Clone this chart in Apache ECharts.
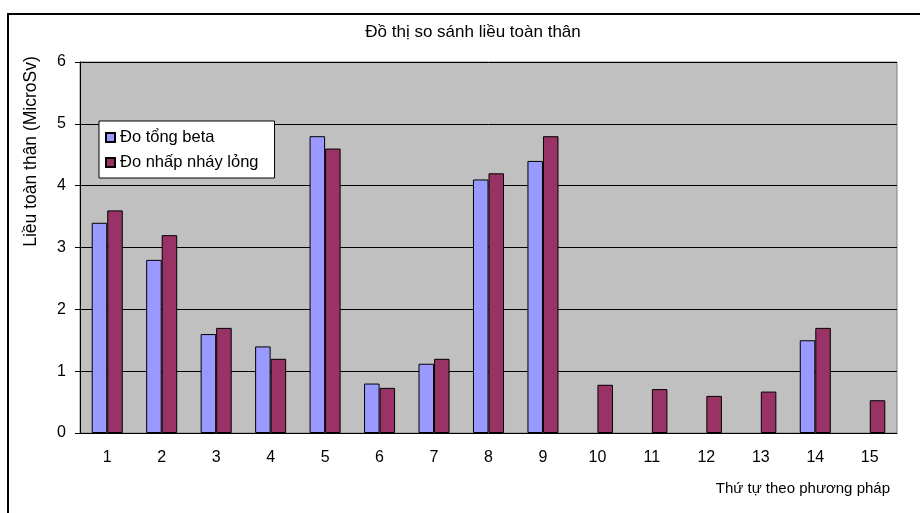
<!DOCTYPE html>
<html>
<head>
<meta charset="utf-8">
<script src="https://cdn.jsdelivr.net/npm/echarts@6/dist/echarts.min.js"></script>
<style>html,body{margin:0;padding:0;background:#fff}#c{width:920px;height:513px}</style>
</head>
<body>
<div id="c"></div>
<script>
var categories = ['1','2','3','4','5','6','7','8','9','10','11','12','13','14','15'];
var tongBeta = [3.4, 2.8, 1.6, 1.4, 4.8, 0.8, 1.12, 4.1, 4.4, null, null, null, null, 1.5, null];
var nhapNhay = [3.6, 3.2, 1.7, 1.2, 4.6, 0.73, 1.2, 4.2, 4.8, 0.78, 0.71, 0.6, 0.67, 1.7, 0.53];
var seriesNames = ['Đo tổng beta', 'Đo nhấp nháy lỏng'];
var titleText = 'Đồ thị so sánh liều toàn thân';
var yName = 'Liều toàn thân (MicroSv)';
var xName = 'Thứ tự theo phương pháp';

var font = 'Arial, "Liberation Sans", sans-serif';
var chart = echarts.init(document.getElementById('c'));
chart.setOption({
  animation: false,
  backgroundColor: '#fff',
  title: {
    text: titleText, left: 468, top: 19, textAlign: 'center',
    textStyle: {fontFamily: font, fontSize: 17, fontWeight: 'normal', color: '#000'}
  },
  graphic: [
    {type: 'polyline', shape: {points: [[8, 513], [8, 14], [920, 14]]}, style: {stroke: '#000', lineWidth: 2, fill: null}, z: 10}
  ],
  legend: {
    orient: 'vertical', left: 99, top: 121,
    backgroundColor: '#fff', borderColor: '#000', borderWidth: 1,
    padding: [8, 16, 7, 6], itemGap: 8,
    itemWidth: 9, itemHeight: 9, icon: 'rect',
    textStyle: {fontFamily: font, fontSize: 16.5, color: '#000', padding: [0, 0, 0, 0]},
    data: seriesNames
  },
  grid: {left: 80, top: 62, right: 23, bottom: 80, show: true, backgroundColor: '#C0C0C0', borderColor: '#808080', borderWidth: 1},
  xAxis: {
    type: 'category', data: categories,
    name: xName, nameLocation: 'end', nameGap: 0,
    nameTextStyle: {fontFamily: font, fontSize: 15, color: '#000', align: 'right', verticalAlign: 'top', padding: [48, 7, 0, 0]},
    axisLine: {lineStyle: {color: '#000', width: 1}},
    axisTick: {length: 5, lineStyle: {color: '#000'}},
    axisLabel: {fontFamily: font, fontSize: 16, color: '#000', margin: 17}
  },
  yAxis: {
    type: 'value', min: 0, max: 6, interval: 1,
    name: yName, nameLocation: 'middle', nameGap: 40, nameRotate: 90,
    nameTextStyle: {fontFamily: font, fontSize: 17.5, color: '#000', padding: [0, 0, 0, 192]},
    axisLine: {show: true, lineStyle: {color: '#000', width: 1}},
    axisTick: {show: true, length: 5, lineStyle: {color: '#000'}},
    axisLabel: {fontFamily: font, fontSize: 16, color: '#000', margin: 14},
    splitLine: {show: true, lineStyle: {color: '#000', width: 1}}
  },
  series: [
    {name: seriesNames[0], type: 'bar', data: tongBeta, barGap: '0%', barCategoryGap: '43%',
     itemStyle: {color: '#9999FF', borderColor: '#000', borderWidth: 1}},
    {name: seriesNames[1], type: 'bar', data: nhapNhay, barGap: '0%', barCategoryGap: '43%',
     itemStyle: {color: '#993366', borderColor: '#000', borderWidth: 1}}
  ]
});
</script>
</body>
</html>
